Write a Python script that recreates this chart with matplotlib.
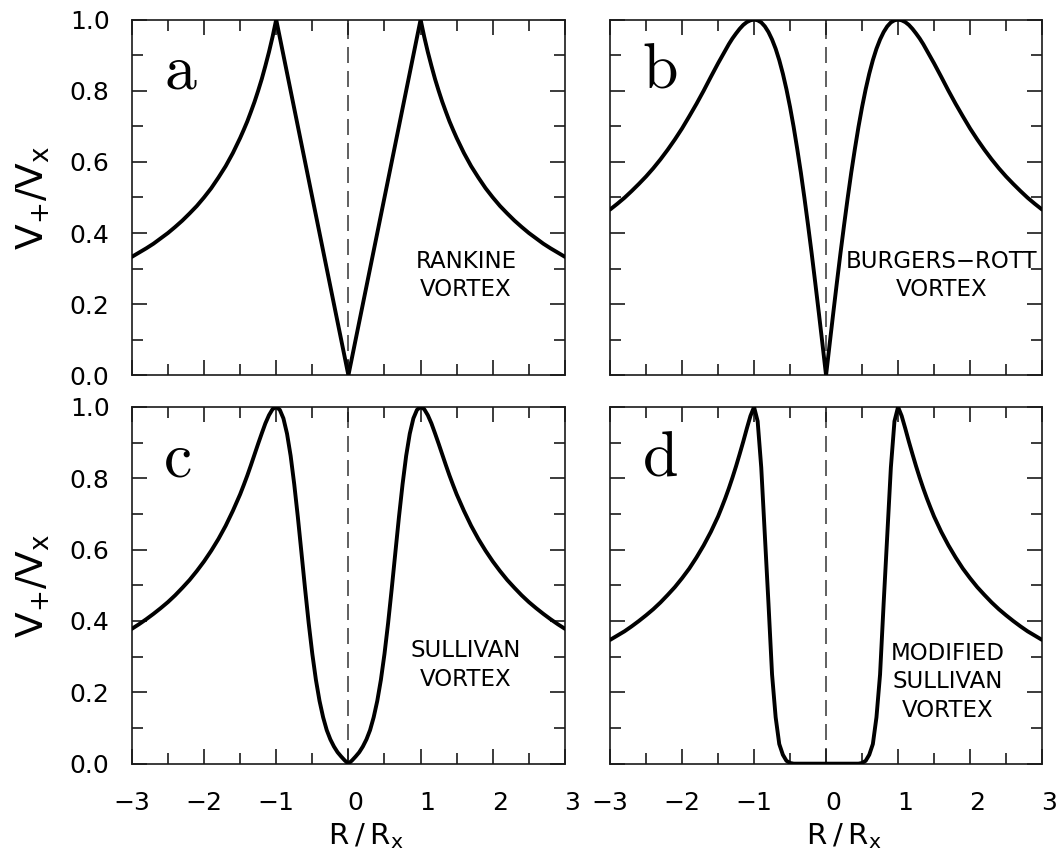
import matplotlib
matplotlib.use("Agg")
import matplotlib.pyplot as plt
import matplotlib.transforms as mtransforms
import numpy as np

# Tangential wind profiles V/Vx against R/Rx for R >= 0
# (every panel is symmetric about R = 0, so the left half is the mirror image).
r_half = [0.00, 0.05, 0.10, 0.15, 0.20, 0.25, 0.30, 0.35, 0.40, 0.45,
          0.50, 0.55, 0.60, 0.65, 0.70, 0.75, 0.80, 0.85, 0.90, 0.95,
          1.00, 1.05, 1.10, 1.15, 1.20, 1.25, 1.30, 1.35, 1.40, 1.45,
          1.50, 1.60, 1.70, 1.80, 1.90, 2.00, 2.10, 2.20, 2.30, 2.40,
          2.50, 2.60, 2.70, 2.80, 2.90, 3.00]

rankine = [0.000, 0.050, 0.100, 0.150, 0.200, 0.250, 0.300, 0.350, 0.400, 0.450,
           0.500, 0.550, 0.600, 0.650, 0.700, 0.750, 0.800, 0.850, 0.900, 0.950,
           1.000, 0.952, 0.909, 0.870, 0.833, 0.800, 0.769, 0.741, 0.714, 0.690,
           0.667, 0.625, 0.588, 0.556, 0.526, 0.500, 0.476, 0.455, 0.435, 0.417,
           0.400, 0.385, 0.370, 0.357, 0.345, 0.333]

burgers_rott = [0.000, 0.088, 0.175, 0.260, 0.343, 0.422, 0.498, 0.570, 0.636, 0.698,
                0.754, 0.804, 0.848, 0.886, 0.918, 0.944, 0.965, 0.981, 0.992, 0.998,
                1.000, 0.998, 0.993, 0.985, 0.974, 0.961, 0.947, 0.931, 0.913, 0.895,
                0.877, 0.839, 0.800, 0.763, 0.728, 0.694, 0.663, 0.634, 0.607, 0.582,
                0.559, 0.538, 0.518, 0.499, 0.482, 0.466]

sullivan = [0.000, 0.009, 0.020, 0.032, 0.048, 0.068, 0.094, 0.130, 0.176, 0.235,
            0.308, 0.394, 0.490, 0.591, 0.691, 0.783, 0.863, 0.925, 0.968, 0.992,
            1.000, 0.994, 0.977, 0.954, 0.926, 0.897, 0.867, 0.837, 0.808, 0.781,
            0.755, 0.709, 0.667, 0.630, 0.597, 0.567, 0.540, 0.515, 0.493, 0.472,
            0.453, 0.436, 0.420, 0.405, 0.391, 0.378]

modified_sullivan = [0.000, 0.000, 0.000, 0.000, 0.000, 0.000, 0.000, 0.000, 0.000, 0.000,
                     0.002, 0.008, 0.025, 0.055, 0.130, 0.250, 0.450, 0.640, 0.830, 0.960,
                     1.000, 0.975, 0.940, 0.903, 0.868, 0.834, 0.802, 0.772, 0.744, 0.718,
                     0.693, 0.650, 0.612, 0.578, 0.547, 0.520, 0.495, 0.473, 0.452, 0.433,
                     0.416, 0.400, 0.385, 0.371, 0.359, 0.347]

profiles = [rankine, burgers_rott, sullivan, modified_sullivan]
panel_letters = ["a", "b", "c", "d"]
panel_names = ["RANKINE\nVORTEX", "BURGERS\u2212ROTT\nVORTEX",
               "SULLIVAN\nVORTEX", "MODIFIED\nSULLIVAN\nVORTEX"]

x_ticks = [-3, -2, -1, 0, 1, 2, 3]
x_tick_labels = ["\u22123", "\u22122", "\u22121", "0", "1", "2", "3"]
y_ticks = [0.0, 0.2, 0.4, 0.6, 0.8, 1.0]
y_tick_labels = ["0.0", "0.2", "0.4", "0.6", "0.8", "1.0"]

# layout (figure fractions) and text placement (data coords) per panel
axes_rects = [[0.124, 0.5651, 0.4075, 0.4122], [0.5739, 0.5651, 0.4064, 0.4122],
              [0.124, 0.1151, 0.4075, 0.4133], [0.5739, 0.1151, 0.4064, 0.4133]]
name_xy = [(1.63, 0.28), (1.60, 0.28), (1.63, 0.277), (1.69, 0.23)]

INK = "#1a1a1a"

plt.rcParams["font.family"] = ["DejaVu Sans"]
plt.rcParams["mathtext.fontset"] = "dejavusans"
for ax_name in ("xtick", "ytick"):
    plt.rcParams[f"{ax_name}.direction"] = "in"
    plt.rcParams[f"{ax_name}.major.size"] = 10.5
    plt.rcParams[f"{ax_name}.minor.size"] = 7.8
    plt.rcParams[f"{ax_name}.major.width"] = 1.2
    plt.rcParams[f"{ax_name}.minor.width"] = 1.2
    plt.rcParams[f"{ax_name}.color"] = INK
    plt.rcParams[f"{ax_name}.labelcolor"] = "black"
    plt.rcParams[f"{ax_name}.labelsize"] = 18
plt.rcParams["xtick.major.pad"] = 20
plt.rcParams["ytick.major.pad"] = 16
plt.rcParams["xtick.top"] = True
plt.rcParams["ytick.right"] = True

fig = plt.figure(figsize=(10.63, 8.63), dpi=100)
label_shift = mtransforms.ScaledTranslation(7 / 100, 0, fig.dpi_scale_trans)

for i, (rect, vel) in enumerate(zip(axes_rects, profiles)):
    ax = fig.add_axes(rect)
    r = np.asarray(r_half)
    v = np.asarray(vel)
    r_full = np.concatenate([-r[::-1], r[1:]])
    v_full = np.concatenate([v[::-1], v[1:]])

    ax.axvline(0, color="#444444", lw=1.2, dashes=(9.6, 4.8), zorder=1)
    ax.plot(r_full, v_full, color="black", lw=2.8, solid_joinstyle="round",
            solid_capstyle="round", zorder=3)

    ax.set_xlim(-3, 3)
    ax.set_ylim(0, 1)
    ax.set_xticks(x_ticks)
    ax.set_xticks(np.arange(-2.5, 3, 1.0), minor=True)
    ax.set_yticks(y_ticks)
    ax.set_yticks([0.1, 0.3, 0.5, 0.7, 0.9], minor=True)

    for side in ax.spines.values():
        side.set_linewidth(1.2)
        side.set_color(INK)

    bottom_row = i >= 2
    left_col = i % 2 == 0
    ax.tick_params(labelbottom=bottom_row, labelleft=left_col)

    if left_col:
        ax.set_yticklabels(y_tick_labels)
        ax.set_ylabel("V$_{+}$/V$_\\mathrm{x}$", fontsize=27)
        ax.yaxis.set_label_coords(-0.185, 0.5)
    if bottom_row:
        ax.set_xticklabels(x_tick_labels)
        for lab in ax.get_xticklabels():
            if not lab.get_text().startswith("\u2212"):
                lab.set_transform(lab.get_transform() + label_shift)
        ax.set_xlabel("R\u2009/\u2009R$_\\mathrm{x}$", fontsize=21, va="baseline")
        ax.xaxis.set_label_coords(0.54, -0.225)

    ax.text(-2.55, 0.805, panel_letters[i], family="cmr10", fontsize=46,
            ha="left", va="baseline")
    ax.text(name_xy[i][0], name_xy[i][1], panel_names[i], fontsize=16.5,
            ha="center", va="center", multialignment="center", linespacing=1.3)

fig.savefig("out.png", dpi=100)
